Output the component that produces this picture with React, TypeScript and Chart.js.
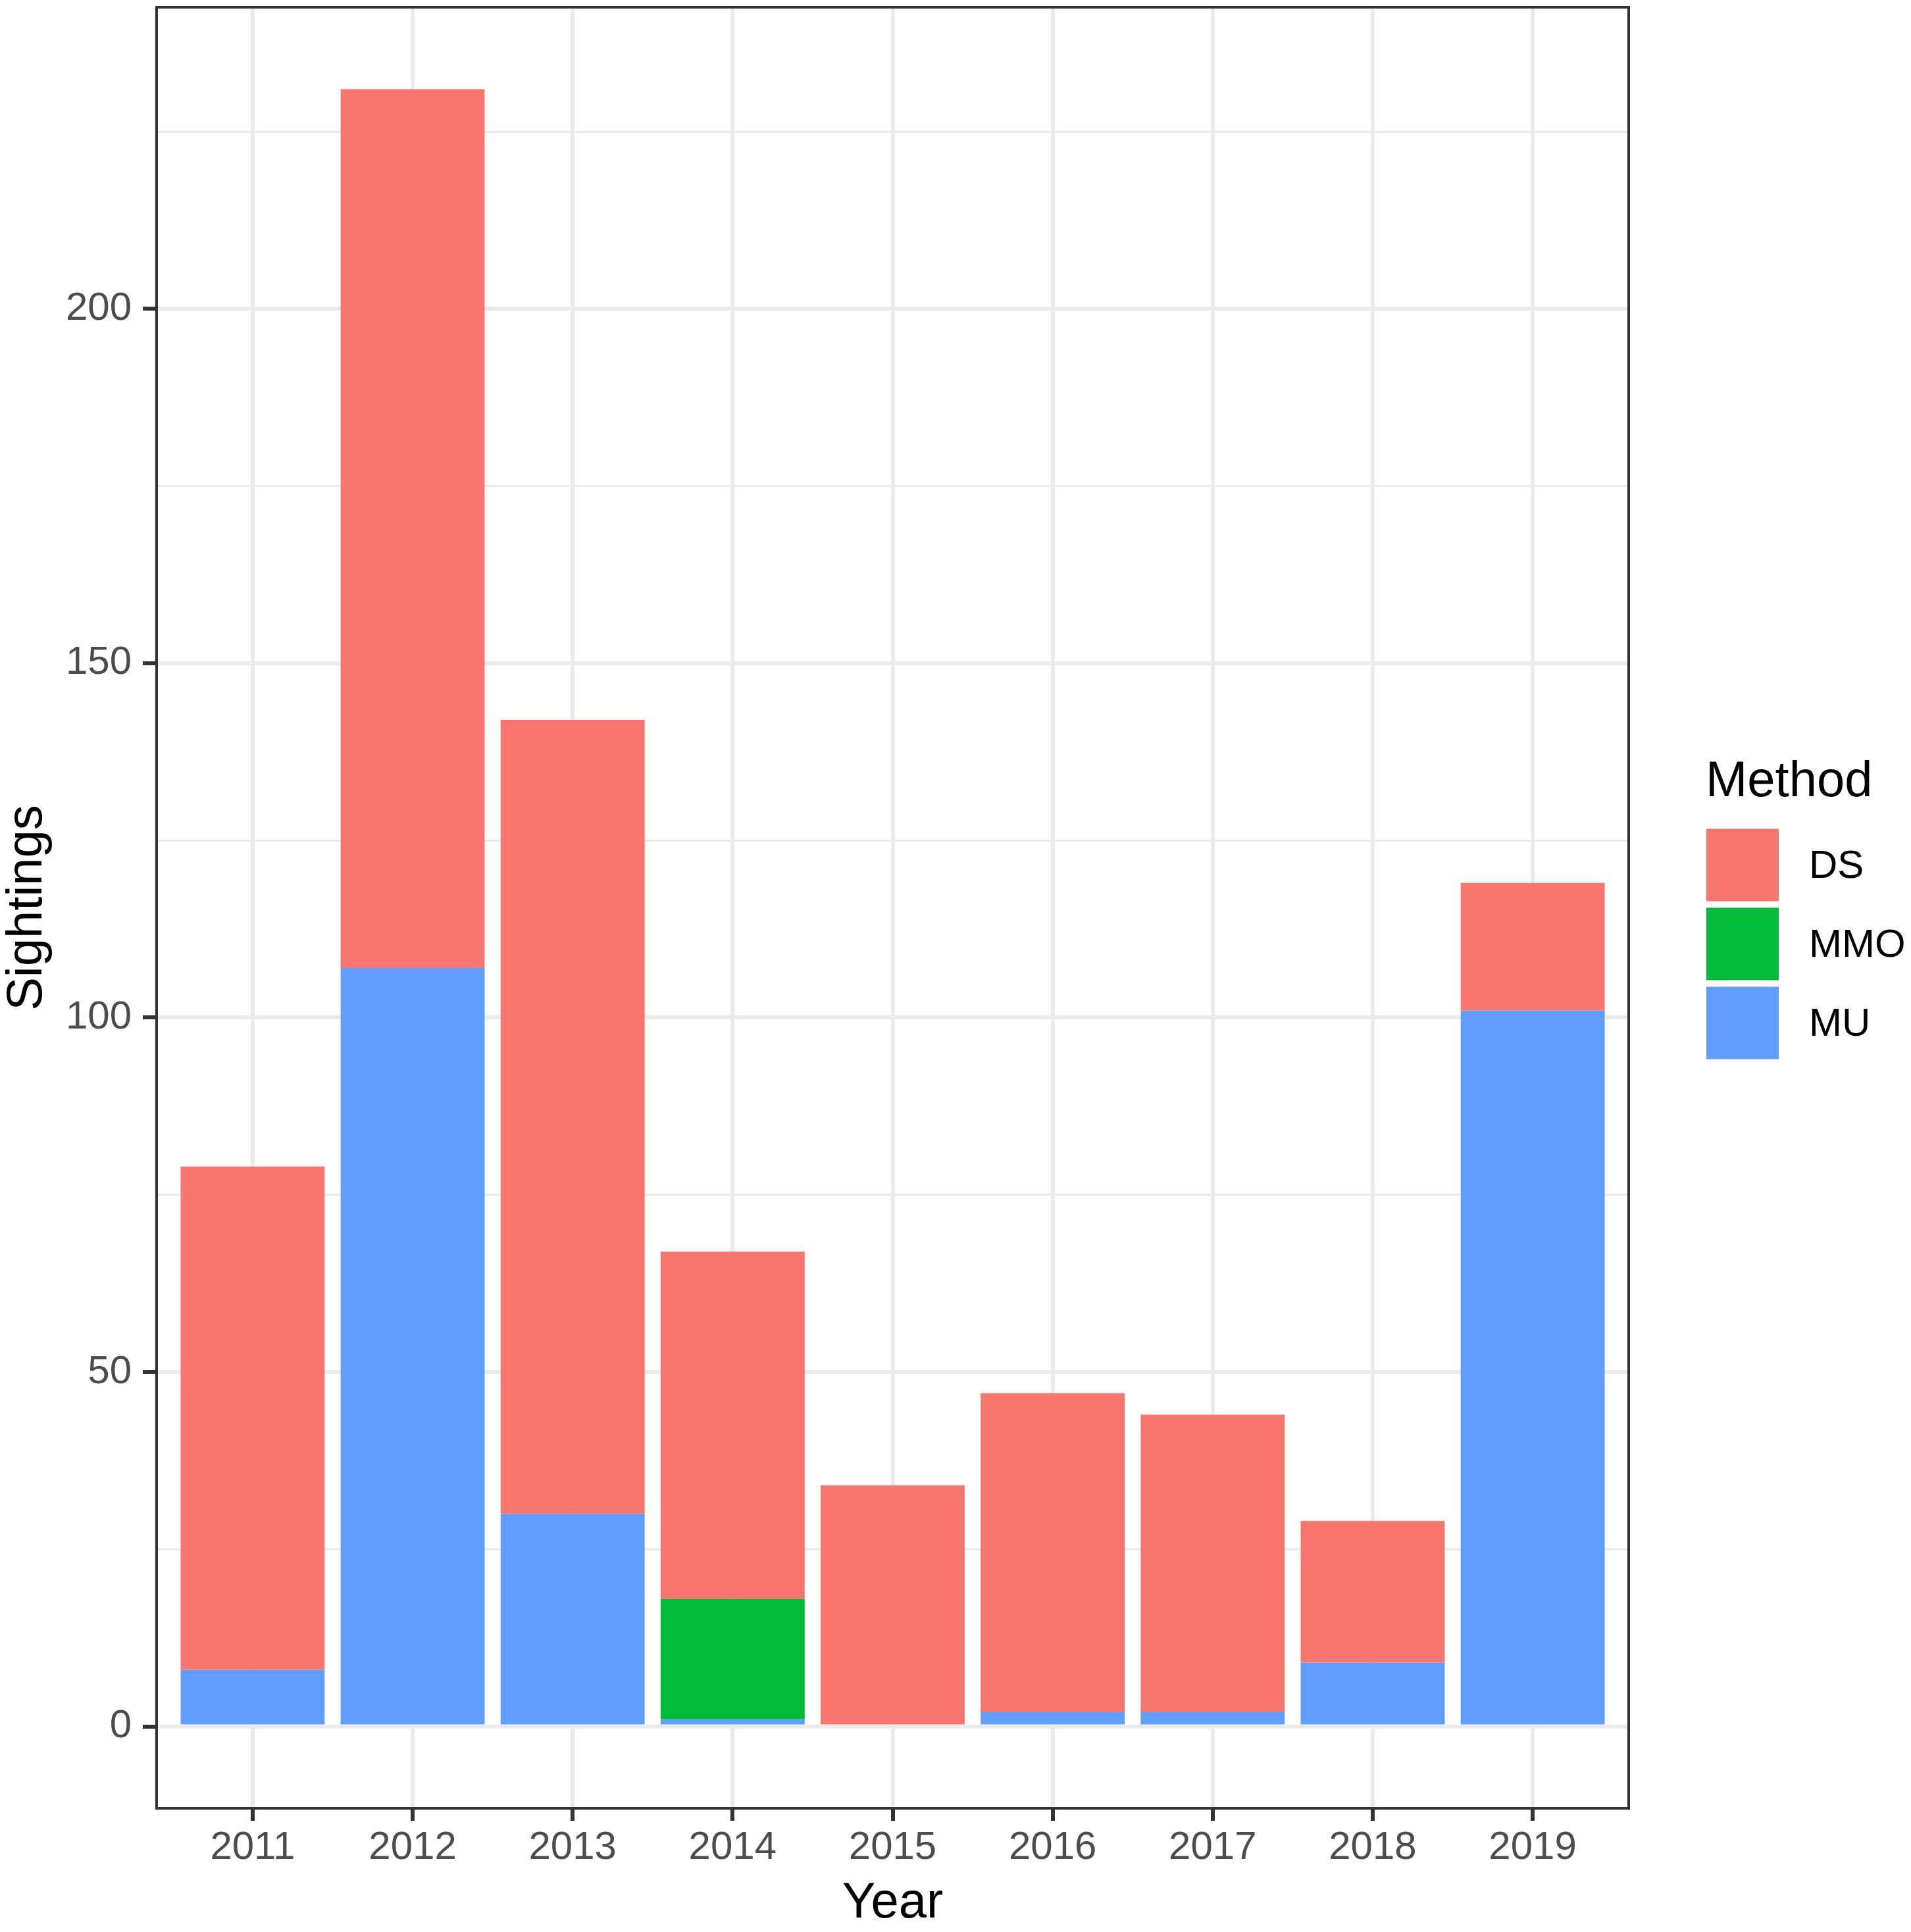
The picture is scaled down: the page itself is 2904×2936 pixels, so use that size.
import { useEffect, useRef } from 'react';
import { Chart, registerables } from 'chart.js';

Chart.register(...registerables);

const years = [2011, 2012, 2013, 2014, 2015, 2016, 2017, 2018, 2019];
const dsCounts = [71, 124, 112, 49, 34, 45, 42, 20, 18];
const mmoCounts = [0, 0, 0, 17, 0, 0, 0, 0, 0];
const muCounts = [8, 107, 30, 1, 0, 2, 2, 9, 101];

const yBreaks = [0, 25, 50, 75, 100, 125, 150, 175, 200, 225];
const yLabelled = [0, 50, 100, 150, 200];

const FONT = '"Liberation Sans", Arial, sans-serif';
const TICK_GREY = '#4D4D4D';
const GRID = '#EBEBEB';
const DARK = '#333333';

// ggplot stacks the first level on top, so datasets go bottom-up here
const series = [
  { label: 'MU', data: muCounts, color: '#619CFF' },
  { label: 'MMO', data: mmoCounts, color: '#00BA38' },
  { label: 'DS', data: dsCounts, color: '#F8766D' },
];

const totals = years.map((_, i) => dsCounts[i] + mmoCounts[i] + muCounts[i]);
const yTop = Math.max(...totals);
const yPad = yTop * 0.05;

// panel border drawn on top of the bars, like theme_bw
const panelBorder = {
  id: 'panelBorder',
  afterDraw(chart: Chart) {
    const { ctx, chartArea } = chart;
    ctx.save();
    ctx.strokeStyle = DARK;
    ctx.lineWidth = 4;
    ctx.strokeRect(chartArea.left, chartArea.top, chartArea.right - chartArea.left, chartArea.bottom - chartArea.top);
    ctx.restore();
  },
};

// legend to the right of the panel: title + square keys, top level first
const methodLegend = {
  id: 'methodLegend',
  afterDraw(chart: Chart) {
    const { ctx, chartArea } = chart;
    const x = chartArea.right + 118;
    const cy = (chartArea.top + chartArea.bottom) / 2;
    ctx.save();
    ctx.fillStyle = '#000000';
    ctx.font = `76px ${FONT}`;
    ctx.textBaseline = 'alphabetic';
    ctx.textAlign = 'left';
    ctx.fillText('Method', x - 1, cy - 170);
    const sets = [...chart.data.datasets].reverse();
    sets.forEach((ds, i) => {
      const top = cy - 120 + i * 120;
      ctx.fillStyle = ds.backgroundColor as string;
      ctx.fillRect(x, top, 110, 110);
      ctx.fillStyle = '#000000';
      ctx.font = `60px ${FONT}`;
      ctx.textBaseline = 'middle';
      ctx.fillText(String(ds.label), x + 156, top + 58);
    });
    ctx.restore();
  },
};

export default function App() {
  const canvasRef = useRef<HTMLCanvasElement>(null);
  const chartRef = useRef<Chart | null>(null);

  useEffect(() => {
    if (!canvasRef.current) return;
    if (chartRef.current) chartRef.current.destroy();

    Chart.defaults.font.family = FONT;

    chartRef.current = new Chart(canvasRef.current, {
      type: 'bar',
      data: {
        labels: years,
        datasets: series.map(s => ({
          label: s.label,
          data: s.data,
          backgroundColor: s.color,
          borderWidth: 0,
          barPercentage: 0.9,
          categoryPercentage: 1,
        })),
      },
      options: {
        animation: false,
        responsive: true,
        maintainAspectRatio: false,
        layout: { padding: { left: 0, top: 11, right: 429, bottom: 0 } },
        plugins: {
          legend: { display: false },
          title: { display: false },
          tooltip: { enabled: false },
        },
        scales: {
          x: {
            type: 'linear',
            stacked: true,
            offset: false,
            min: years[0] - 0.6,
            max: years[years.length - 1] + 0.6,
            afterBuildTicks: (axis: any) => {
              axis.ticks = years.map(v => ({ value: v }));
            },
            afterFit: (axis: any) => {
              axis.height = 188;
              axis.paddingLeft = 0;
              axis.paddingRight = 0;
            },
            border: { display: false },
            grid: {
              offset: false,
              color: GRID,
              lineWidth: 6,
              tickColor: DARK,
              tickWidth: 6,
              tickLength: 19,
            },
            ticks: {
              color: TICK_GREY,
              font: { size: 60, lineHeight: 1.2 },
              padding: 5,
              maxRotation: 0,
              autoSkip: false,
              callback: (v: any) => String(v),
            },
            title: {
              display: true,
              text: 'Year',
              color: '#000000',
              font: { size: 76, lineHeight: 1.1 },
              padding: { top: 0, bottom: 1 },
            },
          },
          y: {
            type: 'linear',
            stacked: true,
            min: -yPad,
            max: yTop + yPad,
            afterBuildTicks: (axis: any) => {
              axis.ticks = yBreaks.map(v => ({ value: v }));
            },
            afterFit: (axis: any) => {
              axis.width = 238;
              axis.paddingTop = 0;
              axis.paddingBottom = 0;
            },
            border: { display: false },
            grid: {
              color: GRID,
              lineWidth: (c: any) => (yLabelled.includes(c.tick?.value) ? 6 : 3),
              tickColor: (c: any) => (yLabelled.includes(c.tick?.value) ? DARK : 'rgba(0,0,0,0)'),
              tickWidth: 6,
              tickLength: 21,
            },
            ticks: {
              color: TICK_GREY,
              font: { size: 60, lineHeight: 1.2 },
              padding: 17,
              autoSkip: false,
              callback: (v: any) => (yLabelled.includes(v) ? String(v) : ''),
            },
            title: {
              display: true,
              text: 'Sightings',
              color: '#000000',
              font: { size: 76, lineHeight: 1.1 },
              padding: 0,
            },
          },
        },
      },
      plugins: [panelBorder, methodLegend],
    });

    return () => {
      if (chartRef.current) {
        chartRef.current.destroy();
        chartRef.current = null;
      }
    };
  }, []);

  return (
    <div style={{ position: 'absolute', left: 0, top: 0, width: 2904, height: 2936, background: '#ffffff' }}>
      <canvas ref={canvasRef}></canvas>
    </div>
  );
}
